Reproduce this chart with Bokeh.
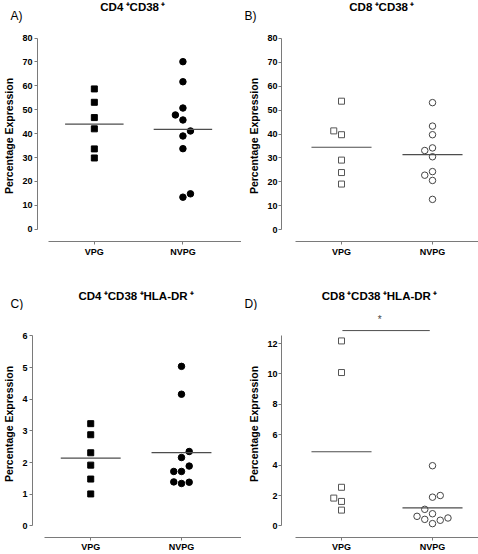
import numpy as np
from bokeh.plotting import figure
from bokeh.models import Range1d, FixedTicker, Label
from bokeh.core.properties import value
from bokeh.layouts import column, row
from bokeh.embed import file_html
from bokeh.resources import INLINE

# ---------------- data ----------------
groups = ["VPG", "NVPG"]
panel_letters = ["A)", "B)", "C)", "D)"]
panel_titles = ["CD4\u2009\u207aCD38\u2009\u207a", "CD8\u2009\u207aCD38\u2009\u207a",
                "CD4\u2009\u207aCD38\u2009\u207aHLA-DR\u2009\u207a",
                "CD8\u2009\u207aCD38\u2009\u207aHLA-DR\u2009\u207a"]
y_title = "Percentage Expression"

a_vpg = [58.7, 53.1, 46.7, 42.0, 33.6, 29.8]
a_vpg_jitter = [0, 0, 0, 0, 0, 0]
a_nvpg = [70.1, 61.7, 50.7, 47.8, 45.7, 41.1, 39.0, 33.7, 14.8, 13.4]
a_nvpg_jitter = [0, 0, 0, -1, 0, 1, 0, 0, 1, 0]
a_yticks = [0, 10, 20, 30, 40, 50, 60, 70, 80]

b_vpg = [53.7, 41.3, 39.7, 29.1, 23.9, 19.1]
b_vpg_jitter = [0, -1, 0, 0, 0, 0]
b_nvpg = [53.1, 43.3, 39.7, 34.2, 33.1, 30.5, 24.3, 22.8, 20.6, 12.7]
b_nvpg_jitter = [0, 0, 0, 0, -1, 0, 0, -1, 0, 0]
b_yticks = [0, 10, 20, 30, 40, 50, 60, 70, 80]

c_vpg = [3.23, 2.88, 2.31, 1.92, 1.48, 1.01]
c_vpg_jitter = [0, 0, 0, 0, 0, 0]
c_nvpg = [5.04, 4.16, 2.35, 2.16, 1.89, 1.72, 1.72, 1.39, 1.34, 1.38]
c_nvpg_jitter = [0, 0, 1, 0, 1, -1, 0, -1, 0, 1]
c_yticks = [0, 1, 2, 3, 4, 5, 6]

d_vpg = [12.17, 10.09, 2.54, 1.83, 1.61, 1.04]
d_vpg_jitter = [0, 0, 0, -1, 0, 0]
d_nvpg = [3.96, 1.89, 2.00, 1.09, 0.80, 0.63, 0.43, 0.15, 0.37, 0.52]
d_nvpg_jitter = [0, 0, 1, -1, 0, -2, -1, 0, 1, 2]
d_yticks = [0, 2, 4, 6, 8, 10, 12]
d_axis_top = 12.5
d_sig_span = [1.01, 1.97]
d_sig_level = 12.85
d_sig_mark = "*"
d_sig_mark_x = 1.42

# ---------------- layout / style (page pixel geometry) ----------------
FONT = "Liberation Sans"
AXIS = "#7a7a7a"
MEAN = "#4d4d4d"
JIT = 0.085
HALF = 0.33
PAGE_W = 478

COLS = [
    dict(x0=0, w=241, fl=31, fr=241, c1=89.5, c2=180.7, ax0=42.7, tick_stand=2, lab_standoff=4,
         letter=10),
    dict(x0=241, w=237, fl=281, fr=478, c1=341, c2=432, ax0=295.3, tick_stand=1, lab_standoff=4,
         letter=244),
]
ROWS = [
    dict(hy0=0, hh=30, y0=30, h=240, ft=30, fb=241, titles=[132.3, 381.3], title_y=6.9,
         letter_y=15.0, xstand=2),
    dict(hy0=270, hh=40, y0=310, h=244, ft=310, fb=539, titles=[135.7, 379.0], title_y=295.0,
         letter_y=303.0, xstand=1),
]


def make_header(ri, idxs):
    r = ROWS[ri]
    h = figure(width=PAGE_W, height=r["hh"], x_range=Range1d(0, PAGE_W),
               y_range=Range1d(r["hy0"] + r["hh"], r["hy0"]),
               toolbar_location=None, output_backend="svg", title=None,
               x_axis_type=None, y_axis_type=None,
               min_border_left=0, min_border_right=0, min_border_top=0, min_border_bottom=0)
    h.outline_line_color = None
    h.background_fill_color = "white"
    h.border_fill_color = "white"
    h.text(x=r["titles"], y=[r["title_y"]] * 2,
           text=[panel_titles[k] for k in idxs],
           text_font=value(FONT), text_font_style="bold", text_font_size=value("11.5px"),
           text_align="center", text_baseline="middle", text_color="black")
    h.text(x=[COLS[i]["letter"] for i in range(2)], y=[r["letter_y"]] * 2,
           text=[panel_letters[k] for k in idxs],
           text_font=value(FONT), text_font_size=value("12px"),
           text_align="left", text_baseline="middle", text_color="black")
    return h


def make_panel(ci, ri, vpg, vj, nvpg, nj, yticks, ytop_px, y0_px, axis_top, hollow):
    c, r = COLS[ci], ROWS[ri]
    ppx = c["c2"] - c["c1"]
    xs = 1 - (c["c1"] - c["fl"]) / ppx
    xe = 2 + (c["fr"] - c["c2"]) / ppx
    xax0 = 1 - (c["c1"] - c["ax0"]) / ppx
    ppy = (y0_px - ytop_px) / yticks[-1]
    ys = -(r["fb"] - y0_px) / ppy
    ye = (y0_px - r["ft"]) / ppy

    p = figure(width=c["w"], height=r["h"], x_range=Range1d(xs, xe), y_range=Range1d(ys, ye),
               toolbar_location=None, output_backend="svg", title=None,
               min_border_left=c["fl"] - c["x0"], min_border_right=c["x0"] + c["w"] - c["fr"],
               min_border_top=r["ft"] - r["y0"], min_border_bottom=r["y0"] + r["h"] - r["fb"])
    p.outline_line_color = None
    p.grid.visible = False
    p.background_fill_color = "white"
    p.border_fill_color = "white"

    xa = p.xaxis[0]
    xa.ticker = FixedTicker(ticks=[1, 2])
    xa.major_label_overrides = {1: groups[0], 2: groups[1]}
    xa.bounds = (xax0, xe)
    ya = p.yaxis[0]
    ya.ticker = FixedTicker(ticks=yticks)
    ya.bounds = (0, axis_top)
    for ax in (xa, ya):
        ax.axis_line_color = AXIS
        ax.axis_line_width = 1
        ax.major_tick_line_color = AXIS
        ax.major_tick_in = 0
        ax.major_tick_out = 3
        ax.minor_tick_line_color = None
        ax.major_label_text_font = FONT
        ax.major_label_text_font_style = "bold"
        ax.major_label_text_font_size = "9px"
        ax.major_label_text_color = "black"
    xa.major_label_standoff = r["xstand"]
    ya.major_label_standoff = c["tick_stand"]
    ya.axis_label = y_title
    ya.axis_label_standoff = c["lab_standoff"]
    ya.axis_label_text_font = FONT
    ya.axis_label_text_font_style = "bold"
    ya.axis_label_text_font_size = "10.5px"
    ya.axis_label_text_color = "black"

    xv = [1 + JIT * j for j in vj]
    xn = [2 + JIT * j for j in nj]
    if hollow:
        p.scatter(xv, vpg, marker="square", size=6, fill_color="white", line_color="#555555", line_width=1)
        p.scatter(xn, nvpg, marker="circle", size=6.5, fill_color="white", line_color="#444444", line_width=1)
    else:
        p.scatter(xv, vpg, marker="square", size=6, fill_color="black", line_color="black")
        p.scatter(xn, nvpg, marker="circle", size=6.5, fill_color="black", line_color="black")

    means = [float(np.mean(vpg)), float(np.mean(nvpg))]
    p.segment(x0=[1 - HALF, 2 - HALF], y0=means, x1=[1 + HALF, 2 + HALF], y1=means,
              line_color=MEAN, line_width=1.2)
    return p


hTop = make_header(0, [0, 1])
hBot = make_header(1, [2, 3])
pA = make_panel(0, 0, a_vpg, a_vpg_jitter, a_nvpg, a_nvpg_jitter, a_yticks, 37.5, 228.7, a_yticks[-1], False)
pB = make_panel(1, 0, b_vpg, b_vpg_jitter, b_nvpg, b_nvpg_jitter, b_yticks, 37.7, 229.3, b_yticks[-1], True)
pC = make_panel(0, 1, c_vpg, c_vpg_jitter, c_nvpg, c_nvpg_jitter, c_yticks, 335.7, 527.3, c_yticks[-1], False)
pD = make_panel(1, 1, d_vpg, d_vpg_jitter, d_nvpg, d_nvpg_jitter, d_yticks, 343.3, 527.3, d_axis_top, True)

pD.line(d_sig_span, [d_sig_level, d_sig_level], line_color=MEAN, line_width=1)
pD.add_layout(Label(x=d_sig_mark_x, y=d_sig_level, y_offset=11, text=d_sig_mark,
                    text_align="center", text_baseline="middle",
                    text_font=FONT, text_font_size="10px"))

layout = column(hTop, row(pA, pB), hBot, row(pC, pD))
open("out.html", "w").write(file_html(layout, INLINE))
